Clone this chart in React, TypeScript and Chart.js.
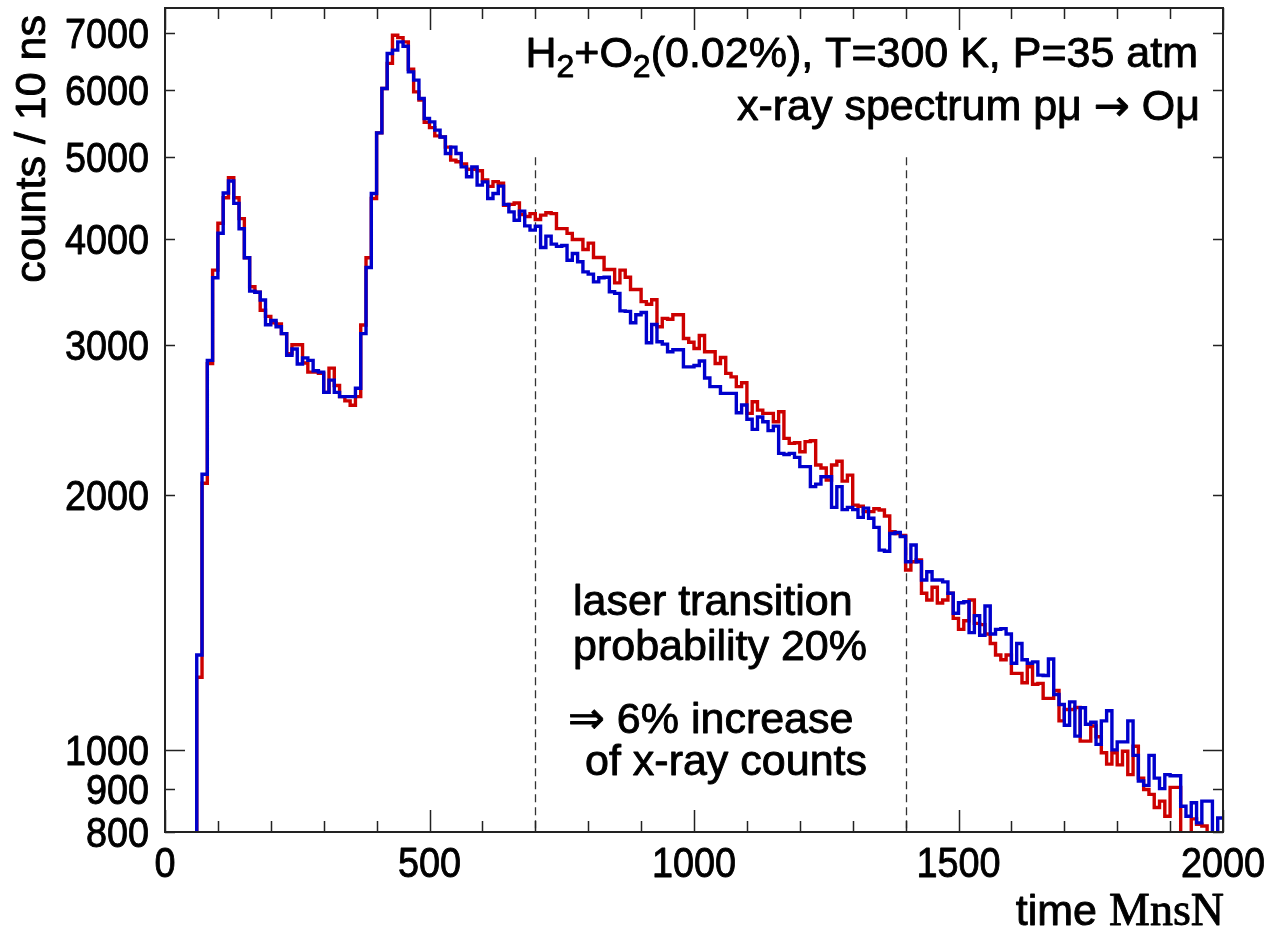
import React, { useEffect, useRef } from "react";
import { Chart, registerables } from "chart.js";

Chart.register(...registerables);

// ---------------- data ----------------
const BIN_START_NS = 50; // start of first bin (ns)
const BIN_WIDTH_NS = 10; // counts / 10 ns

// blue histogram, bins 50,60,...,1990 ns
const BLUE_COUNTS = [
  40, 1294, 2114, 2880, 3604,
  4068, 4538, 4688, 4412, 4118, 3806, 3476, 3465, 3393, 3173,
  3210, 3155, 3097, 2921, 2970, 2852, 2900, 2880, 2800, 2790,
  2640, 2730, 2640, 2610, 2610, 2610, 2670, 3097, 3706, 4531,
  5343, 6026, 6629, 6690, 6840, 6761, 6306, 6166, 5866, 5556,
  5505, 5383, 5284, 5051, 5140, 5051, 4872, 4742, 4872, 4636,
  4677, 4470, 4531, 4623, 4400, 4311, 4214, 4320, 4150, 4102,
  4146, 3913, 4036, 3949, 3925, 3935, 3780, 3850, 3765, 3663,
  3640, 3565, 3605, 3610, 3470, 3455, 3295, 3290, 3190, 3260,
  3280, 3021, 3175, 3030, 3010, 2948, 2965, 2965, 2830, 2830,
  2840, 2875, 2745, 2682, 2682, 2633, 2633, 2633, 2498, 2551,
  2454, 2388, 2470, 2438, 2380, 2409, 2237, 2230, 2237, 2213,
  2158, 2158, 2044, 2058, 2100, 2100, 1932, 2044, 1920, 1932,
  1920, 1880, 1928, 1876, 1830, 1720, 1715, 1800, 1805, 1785,
  1667, 1744, 1667, 1586, 1622, 1586, 1586, 1578, 1530, 1449,
  1491, 1495, 1375, 1440, 1365, 1478, 1370, 1387, 1390, 1370,
  1265, 1335, 1277, 1265, 1270, 1225, 1224, 1280, 1162, 1131,
  1069, 1139, 1038, 1121, 1072, 1078, 1015, 1082, 1112, 1000,
  1022, 1022, 1082, 985, 919, 908, 985, 926, 900, 935,
  932, 932, 858, 835, 866, 820, 870, 870, 780, 831,
];

// red histogram, bins 50,60,...,1990 ns
const RED_COUNTS = [
  40, 1218, 2063, 2855, 3680,
  4179, 4480, 4731, 4480, 4233, 3806, 3517, 3465, 3300, 3246,
  3190, 3180, 3097, 2933, 3005, 3005, 2860, 2790, 2790, 2780,
  2640, 2820, 2690, 2610, 2580, 2550, 2610, 3170, 3806, 4470,
  5343, 6026, 6452, 6966, 6920, 6840, 6350, 5972, 5840, 5500,
  5420, 5300, 5284, 5140, 4961, 4940, 4910, 4840, 4840, 4820,
  4700, 4620, 4680, 4660, 4390, 4400, 4417, 4280, 4257, 4290,
  4222, 4273, 4300, 4290, 4119, 4119, 4066, 4000, 4000, 3892,
  3960, 3808, 3808, 3687, 3687, 3555, 3680, 3610, 3492, 3492,
  3378, 3355, 3395, 3155, 3228, 3220, 3260, 3260, 3057, 3025,
  2975, 3082, 2948, 2948, 2856, 2903, 2780, 2754, 2682, 2710,
  2494, 2574, 2516, 2494, 2494, 2438, 2505, 2330, 2299, 2303,
  2247, 2310, 2315, 2168, 2150, 2081, 2168, 2190, 2075, 2109,
  1944, 1938, 1910, 1910, 1925, 1918, 1887, 1808, 1800, 1790,
  1630, 1667, 1675, 1530, 1502, 1555, 1490, 1502, 1530, 1429,
  1387, 1420, 1502, 1410, 1405, 1370, 1335, 1294, 1277, 1294,
  1231, 1231, 1200, 1253, 1195, 1198, 1150, 1150, 1175, 1082,
  1116, 1116, 1122, 1024, 1024, 1067, 1036, 992, 962, 992,
  960, 996, 935, 1010, 926, 898, 886, 855, 870, 835,
  903, 903, 780, 790, 829, 817, 813, 780, 780, 780,
];

const X_MIN = 0;
const X_MAX = 2000;
const Y_MIN = 800;
const Y_MAX = 7500;
const X_TICK_LABELS = [0, 500, 1000, 1500, 2000];
const X_MINOR_TICKS = [
  0, 100, 200, 300, 400, 500, 600, 700, 800, 900, 1000,
  1100, 1200, 1300, 1400, 1500, 1600, 1700, 1800, 1900, 2000,
];
const X_MAJOR_TICKS = [0, 500, 1000, 1500, 2000];
const Y_TICKS = [800, 900, 1000, 2000, 3000, 4000, 5000, 6000, 7000];
const Y_MAJOR_TICKS = [1000];
const LASER_WINDOW_NS = [700, 1400];
const LASER_MARKER_TOP = 5000;

const Y_TITLE = "counts / 10 ns";
const X_TITLE_SANS = "time ";
const X_TITLE_SERIF = "MnsN";

// ---------------- styles ----------------
const BLUE = "#0000cc";
const RED = "#cc0000";
const SANS = '"Liberation Sans", Arial, "DejaVu Sans", sans-serif';
const SERIF = '"Liberation Serif", "Times New Roman", serif';
const DEJAVU = '"DejaVu Sans", sans-serif';
const AXIS_COLOR = "#222";
const TEXT_STROKE = 0.9;

type Run = { text: string; size: number; family?: string; dy?: number };

function drawRuns(
  ctx: CanvasRenderingContext2D,
  runs: Run[],
  x: number,
  baseline: number,
  align: "left" | "right"
) {
  const widths = runs.map((r) => {
    ctx.font = `${r.size}px ${r.family || SANS}`;
    return ctx.measureText(r.text).width;
  });
  const total = widths.reduce((a, b) => a + b, 0);
  let cx = align === "right" ? x - total : x;
  ctx.textAlign = "left";
  ctx.textBaseline = "alphabetic";
  ctx.lineWidth = TEXT_STROKE;
  ctx.lineJoin = "round";
  runs.forEach((r, i) => {
    ctx.font = `${r.size}px ${r.family || SANS}`;
    ctx.fillText(r.text, cx, baseline + (r.dy || 0));
    ctx.strokeText(r.text, cx, baseline + (r.dy || 0));
    cx += widths[i];
  });
}

function drawNumber(
  ctx: CanvasRenderingContext2D,
  text: string,
  x: number,
  baseline: number,
  align: CanvasTextAlign
) {
  ctx.save();
  ctx.translate(x, baseline);
  ctx.scale(0.9, 1);
  ctx.font = `42px ${SANS}`;
  ctx.textAlign = align;
  ctx.textBaseline = "alphabetic";
  ctx.lineWidth = TEXT_STROKE;
  ctx.lineJoin = "round";
  ctx.fillText(text, 0, 0);
  ctx.strokeText(text, 0, 0);
  ctx.restore();
}

const decor = {
  id: "decor",
  beforeDatasetsDraw(chart: any) {
    const { ctx, chartArea: a, scales } = chart;
    const x = scales.x;
    const y = scales.y;
    ctx.save();
    ctx.strokeStyle = "#333";
    ctx.lineWidth = 1.3;
    ctx.setLineDash([8, 5]);
    for (const t of LASER_WINDOW_NS) {
      const px = Math.round(x.getPixelForValue(t)) + 0.5;
      ctx.beginPath();
      ctx.moveTo(px, y.getPixelForValue(LASER_MARKER_TOP));
      ctx.lineTo(px, a.bottom);
      ctx.stroke();
    }
    ctx.restore();
  },
  afterDatasetsDraw(chart: any) {
    const { ctx, chartArea: a, scales } = chart;
    const x = scales.x;
    const y = scales.y;
    ctx.save();
    ctx.strokeStyle = AXIS_COLOR;
    ctx.lineWidth = 1.5;
    ctx.beginPath();
    for (const t of X_MINOR_TICKS) {
      const len = X_MAJOR_TICKS.includes(t) ? 22 : 11;
      const px = Math.round(x.getPixelForValue(t)) + 0.5;
      ctx.moveTo(px, a.bottom);
      ctx.lineTo(px, a.bottom - len);
      ctx.moveTo(px, a.top);
      ctx.lineTo(px, a.top + len);
    }
    for (const v of Y_TICKS) {
      const len = Y_MAJOR_TICKS.includes(v) ? 20 : 10;
      const py = Math.round(y.getPixelForValue(v)) + 0.5;
      ctx.moveTo(a.left, py);
      ctx.lineTo(a.left + len, py);
      ctx.moveTo(a.right, py);
      ctx.lineTo(a.right - len, py);
    }
    ctx.stroke();
    ctx.lineWidth = 2;
    ctx.strokeRect(a.left, a.top, a.right - a.left, a.bottom - a.top);
    ctx.restore();
  },
  afterDraw(chart: any) {
    const { ctx, chartArea: a, scales } = chart;
    const x = scales.x;
    const y = scales.y;
    ctx.save();
    ctx.fillStyle = "#000";
    ctx.strokeStyle = "#000";
    // tick labels
    for (const v of Y_TICKS) {
      drawNumber(ctx, String(v), a.left - 16, y.getPixelForValue(v) + 15, "right");
    }
    for (const t of X_TICK_LABELS) {
      drawNumber(ctx, String(t), x.getPixelForValue(t), a.bottom + 45, "center");
    }
    // header
    drawRuns(
      ctx,
      [
        { text: "H", size: 43 },
        { text: "2", size: 32, dy: 10 },
        { text: "+O", size: 43 },
        { text: "2", size: 32, dy: 10 },
        { text: "(0.02%), T=300 K, P=35 atm", size: 43 },
      ],
      a.right - 25,
      67,
      "right"
    );
    drawRuns(
      ctx,
      [
        { text: "x-ray spectrum p\u03BC ", size: 43 },
        { text: "\u2192", size: 43, family: DEJAVU },
        { text: " O\u03BC", size: 43 },
      ],
      a.right - 23,
      120,
      "right"
    );
    // annotation
    drawRuns(ctx, [{ text: "laser transition", size: 43 }], 573, 615, "left");
    drawRuns(ctx, [{ text: "probability 20%", size: 43 }], 573, 660, "left");
    drawRuns(
      ctx,
      [
        { text: "\u21D2", size: 44, family: DEJAVU },
        { text: " 6% increase", size: 43 },
      ],
      568,
      733,
      "left"
    );
    drawRuns(ctx, [{ text: "of x-ray counts", size: 43 }], 585, 775, "left");
    // x title
    drawRuns(
      ctx,
      [
        { text: X_TITLE_SANS, size: 43 },
        { text: X_TITLE_SERIF, size: 46, family: SERIF },
      ],
      a.right + 1,
      925,
      "right"
    );
    // y title
    ctx.translate(45, 15);
    ctx.rotate(-Math.PI / 2);
    ctx.font = `43px ${SANS}`;
    ctx.textAlign = "right";
    ctx.textBaseline = "alphabetic";
    ctx.lineWidth = TEXT_STROKE;
    ctx.fillText(Y_TITLE, 0, 0);
    ctx.strokeText(Y_TITLE, 0, 0);
    ctx.restore();
  },
};

function toPoints(counts: number[]) {
  const pts = counts.map((c, i) => ({ x: BIN_START_NS + i * BIN_WIDTH_NS, y: c }));
  pts.push({
    x: BIN_START_NS + counts.length * BIN_WIDTH_NS,
    y: counts[counts.length - 1],
  });
  return pts;
}

export default function App() {
  const ref = useRef<HTMLCanvasElement>(null);
  useEffect(() => {
    const canvas = ref.current;
    if (!canvas) return;
    const chart = new Chart(canvas, {
      type: "line",
      data: {
        datasets: [
          {
            label: "blue",
            data: toPoints(BLUE_COUNTS),
            borderColor: BLUE,
            backgroundColor: BLUE,
            borderWidth: 3.4,
            pointRadius: 0,
            stepped: "before",
            fill: false,
          },
          {
            label: "red",
            data: toPoints(RED_COUNTS),
            borderColor: RED,
            backgroundColor: RED,
            borderWidth: 3.4,
            pointRadius: 0,
            stepped: "before",
            fill: false,
          },
        ],
      },
      options: {
        responsive: false,
        animation: false,
        events: [],
        layout: { padding: { top: 8, right: 51, left: 0, bottom: 0 } },
        plugins: {
          legend: { display: false },
          tooltip: { enabled: false },
          title: { display: false },
        },
        scales: {
          x: {
            type: "linear",
            min: X_MIN,
            max: X_MAX,
            grid: { display: false, drawTicks: false },
            border: { display: false },
            afterBuildTicks: (s: any) => {
              s.ticks = X_TICK_LABELS.map((v) => ({ value: v }));
            },
            afterFit: (s: any) => {
              s.height = 99;
              s.paddingLeft = 0;
              s.paddingRight = 0;
            },
            ticks: { display: false },
          },
          y: {
            type: "logarithmic",
            min: Y_MIN,
            max: Y_MAX,
            grid: { display: false, drawTicks: false },
            border: { display: false },
            afterBuildTicks: (s: any) => {
              s.ticks = Y_TICKS.map((v) => ({ value: v }));
            },
            afterFit: (s: any) => {
              s.width = 165;
              s.paddingTop = 0;
              s.paddingBottom = 0;
            },
            ticks: { display: false },
          },
        },
      } as any,
      plugins: [decor],
    });
    return () => chart.destroy();
  }, []);
  return (
    <div
      style={{
        position: "absolute",
        left: 0,
        top: 0,
        width: 1274,
        height: 931,
        background: "#fff",
      }}
    >
      <canvas ref={ref} width={1274} height={931} style={{ display: "block" }} />
    </div>
  );
}
